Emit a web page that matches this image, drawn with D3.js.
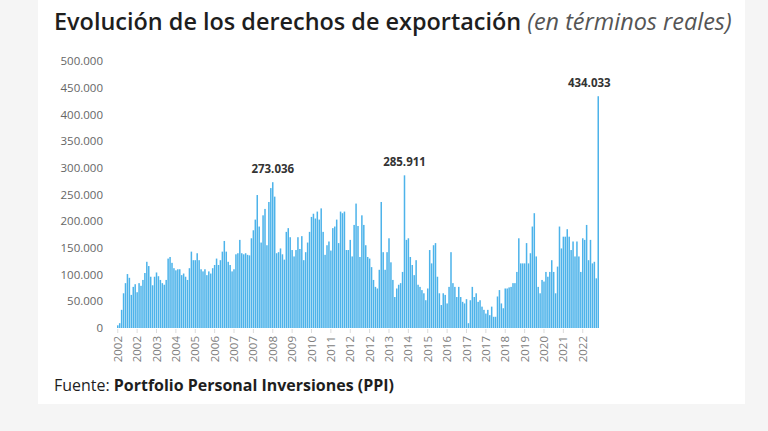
<!DOCTYPE html>
<html>
<head>
<meta charset="utf-8">
<script src="https://cdn.jsdelivr.net/npm/d3@7"></script>
<style>
  html, body { margin: 0; padding: 0; background: #f5f5f5; }
  svg { display: block; }
</style>
</head>
<body>
<svg id="chart" width="768" height="431"></svg>
<script>
// ---- DATA (monthly, Jan 2002 .. Sep 2022), values in pesos (real terms) ----
const startYear = 2002;
const values = [
  5000, 9000, 34000, 65000, 84000, 101000, 94000, 62000, 77000, 82000, 67000, 84000,
  79000, 90000, 103000, 124000, 116000, 96000, 80000, 96000, 104000, 97000, 90000, 84000,
  81000, 90000, 130000, 133000, 122000, 112000, 108000, 110000, 110000, 99000, 102000, 96000,
  90000, 112000, 143000, 127000, 127000, 140000, 127000, 110000, 106000, 110000, 99000, 106000,
  102000, 112000, 118000, 130000, 118000, 127000, 143000, 163000, 143000, 124000, 118000, 106000,
  110000, 138000, 140000, 165000, 140000, 138000, 140000, 137000, 136000, 168000, 183000, 203000,
  249000, 190000, 160000, 211000, 223000, 155000, 236000, 262000, 273036, 246000, 140000, 142000,
  149000, 138000, 128000, 180000, 187000, 170000, 146000, 134000, 146000, 170000, 148000, 172000,
  127000, 142000, 160000, 180000, 208000, 214000, 205000, 218000, 203000, 224000, 180000, 137000,
  155000, 162000, 145000, 187000, 190000, 203000, 159000, 218000, 215000, 218000, 146000, 146000,
  165000, 134000, 193000, 233000, 191000, 133000, 211000, 193000, 155000, 133000, 130000, 114000,
  90000, 77000, 74000, 109000, 236000, 142000, 109000, 142000, 168000, 123000, 90000, 58000,
  74000, 81000, 84000, 105000, 285911, 165000, 168000, 133000, 118000, 99000, 127000, 81000,
  77000, 71000, 65000, 52000, 74000, 146000, 121000, 155000, 159000, 96000, 65000, 43000,
  65000, 62000, 46000, 77000, 142000, 84000, 77000, 58000, 77000, 58000, 49000, 46000,
  54000, 9000, 52000, 77000, 58000, 65000, 49000, 52000, 40000, 34000, 27000, 34000,
  24000, 40000, 21000, 21000, 59000, 71000, 46000, 37000, 74000, 74000, 76000, 77000,
  84000, 84000, 105000, 168000, 121000, 121000, 121000, 159000, 121000, 140000, 190000, 215000,
  134000, 77000, 65000, 90000, 87000, 105000, 96000, 105000, 127000, 105000, 65000, 115000,
  190000, 149000, 171000, 171000, 185000, 171000, 146000, 162000, 134000, 162000, 134000, 105000,
  168000, 165000, 193000, 127000, 165000, 121000, 124000, 93000, 434033
];
const yTicks = [0, 50000, 100000, 150000, 200000, 250000, 300000, 350000, 400000, 450000, 500000];
const xTickEvery = 10;           // a year label every 10 months
const annotated = [80, 148, 248]; // indices of labelled peaks

const titleMain = "Evolución de los derechos de exportación";
const titleSub = "(en términos reales)";
const sourceLabel = "Fuente: ";
const sourceName = "Portfolio Personal Inversiones (PPI)";

// ---- LAYOUT ----
const svg = d3.select("#chart");
const W = 768, H = 431;
const plot = { left: 117, right: 599, top: 61, bottom: 328 };

const es = d3.formatLocale({ decimal: ",", thousands: ".", grouping: [3], currency: ["$", ""] });
const fmt = es.format(",.0f");

svg.append("rect").attr("width", W).attr("height", H).attr("fill", "#f5f5f5");
svg.append("rect").attr("x", 38).attr("y", 0).attr("width", 707).attr("height", 404).attr("fill", "#ffffff");

const idx = d3.range(values.length);
const x = d3.scaleBand().domain(idx).range([plot.left, plot.right]).paddingInner(0.22).paddingOuter(0);
const y = d3.scaleLinear().domain([0, 500000]).range([plot.bottom, plot.top]);

// bars
svg.append("g").selectAll("rect").data(idx).join("rect")
  .attr("x", i => x(i))
  .attr("width", x.bandwidth())
  .attr("y", i => y(values[i]))
  .attr("height", i => y(0) - y(values[i]))
  .attr("fill", "#4db3ea");

// y axis
const yAxis = d3.axisLeft(y).tickValues(yTicks).tickFormat(d => fmt(d)).tickSize(0).tickPadding(0);
const gy = svg.append("g").attr("transform", `translate(103,0)`).call(yAxis);
gy.select(".domain").remove();
gy.selectAll("text").attr("fill", "#666").style("font-family", "'Open Sans', sans-serif").style("font-size", "11.5px");

// x axis
const xTicks = idx.filter(i => i % xTickEvery === 0);
const xAxis = d3.axisBottom(x).tickValues(xTicks)
  .tickFormat(i => String(startYear + Math.floor(i / 12)))
  .tickSize(4).tickPadding(3);
const gx = svg.append("g").attr("transform", `translate(0,${plot.bottom + 1})`).call(xAxis);
gx.select(".domain").remove();
gx.selectAll(".tick line").attr("stroke", "#dcdcdc");
gx.selectAll("text")
  .attr("fill", "#808080")
  .style("font-family", "'Open Sans', sans-serif").style("font-size", "11.5px")
  .attr("text-anchor", "end")
  .attr("transform", "rotate(-90)")
  .attr("x", -7).attr("y", 0).attr("dy", "0.35em");

// peak labels
svg.append("g").selectAll("text").data(annotated).join("text")
  .attr("x", i => x(i) + x.bandwidth() / 2 - (i === values.length - 1 ? 9 : 0))
  .attr("y", i => y(values[i]) - 9)
  .attr("text-anchor", "middle")
  .attr("fill", "#333")
  .style("font-family", "'Open Sans', sans-serif").style("font-size", "11.5px").style("font-weight", "700")
  .text(i => fmt(values[i]));

// title
const title = svg.append("text").attr("x", 54).attr("y", 30)
  .style("font-family", "'Open Sans', sans-serif").style("font-size", "20px");
title.append("tspan").attr("fill", "#1e1e1e").style("font-weight", "600").text(titleMain);
title.append("tspan").attr("fill", "#555").style("font-style", "italic").attr("dx", 6).text(titleSub);
// fit the title to the reference width
const tw = title.node().getComputedTextLength();
const target = 672;
title.style("font-size", (20 * target / tw).toFixed(2) + "px");

// source
const src = svg.append("text").attr("x", 54).attr("y", 391)
  .style("font-family", "'Open Sans', sans-serif").style("font-size", "14px").attr("fill", "#1e1e1e");
src.append("tspan").style("font-weight", "400").text(sourceLabel);
src.append("tspan").style("font-weight", "700").text(sourceName);
const sw = src.node().getComputedTextLength();
src.style("font-size", (14 * 340 / sw).toFixed(2) + "px");
</script>
</body>
</html>
